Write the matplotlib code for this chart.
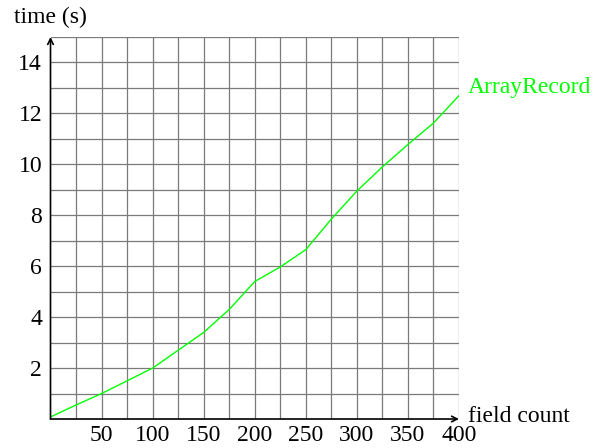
import matplotlib.pyplot as plt

# field count vs time for ArrayRecord
field_count = [0, 25, 50, 75, 100, 125, 150, 175, 200, 225, 250, 275, 300, 325, 350, 375, 400]
time_s = [0.08, 0.55, 1.0, 1.5, 2.0, 2.7, 3.4, 4.3, 5.4, 5.97, 6.65, 7.85, 8.95, 9.9, 10.78, 11.62, 12.7]

x_ticks = [50, 100, 150, 200, 250, 300, 350, 400]
y_ticks = [2, 4, 6, 8, 10, 12, 14]

plt.rcParams['font.family'] = ['Liberation Serif', 'DejaVu Serif']

fig = plt.figure(figsize=(6.02, 4.48), dpi=100)
ax = fig.add_axes([50.5 / 602, 29 / 448, (459 - 50.5) / 602, (419 - 37) / 448])

ax.set_xlim(0, 400)
ax.set_ylim(0, 15)

# grid every 25 on x, every 1 on y
for gx in range(25, 401, 25):
    ax.axvline(gx, color='#7a7a7a', lw=0.9, zorder=1)
for gy in range(1, 16):
    ax.axhline(gy, color='#7a7a7a', lw=0.9, zorder=1)

ax.plot(field_count, time_s, color='#00ff00', lw=1, zorder=3)
ax.text(408.5, time_s[-1] + 0.3, 'ArrayRecord', color='#00ff00', fontsize=17,
        ha='left', va='center')

for s in ax.spines.values():
    s.set_visible(False)

# axes with arrow heads
ax.annotate('', xy=(400, 0), xytext=(0, 0), annotation_clip=False,
            arrowprops=dict(arrowstyle='->', lw=1.2, color='black', shrinkA=0, shrinkB=0))
ax.annotate('', xy=(0, 15), xytext=(0, 0), annotation_clip=False,
            arrowprops=dict(arrowstyle='->', lw=1.2, color='black', shrinkA=0, shrinkB=0))

ax.set_xticks(x_ticks)
ax.set_yticks(y_ticks)
ax.set_xticklabels([str(v) for v in x_ticks])
ax.set_yticklabels([str(v) for v in y_ticks])
ax.tick_params(axis='x', length=0, labelsize=17, pad=4)
ax.tick_params(axis='y', length=0, labelsize=17, pad=6)

ax.text(409, 0.1, 'field count', fontsize=17, ha='left', va='center')
fig.text(14 / 602, 1 - 17 / 448, 'time (s)', fontsize=17, ha='left', va='center')

plt.savefig('out.png', dpi=100)
